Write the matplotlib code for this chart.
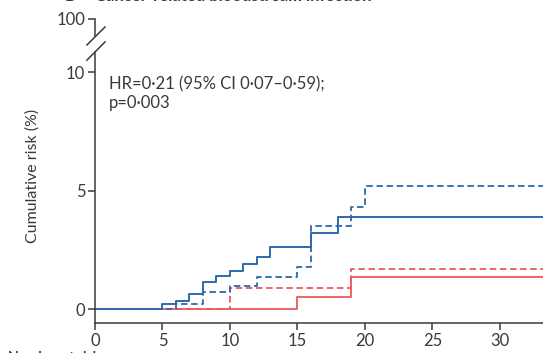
import matplotlib
matplotlib.use("Agg")
import matplotlib.pyplot as plt

plt.rcParams['font.family'] = ['Lato', 'DejaVu Sans']

# Kaplan-Meier style cumulative risk curves (months, %)
blue_solid_t = [0, 5, 6, 7, 8, 9, 10, 11, 12, 13, 16, 18, 34]
blue_solid_v = [0, 0.21, 0.35, 0.64, 1.14, 1.38, 1.62, 1.90, 2.19, 2.61, 3.19, 3.88, 3.88]
blue_dash_t = [0, 6, 8, 10, 12, 15, 16, 19, 20, 34]
blue_dash_v = [0, 0.20, 0.73, 0.97, 1.33, 1.79, 3.49, 4.32, 5.18, 5.18]
red_solid_t = [0, 15, 19, 34]
red_solid_v = [0, 0.52, 1.34, 1.34]
red_dash_t = [0, 10, 19, 34]
red_dash_v = [0, 0.87, 1.69, 1.69]

x_ticks = [0, 5, 10, 15, 20, 25, 30]
y_ticks = [0, 5, 10, 12.25]
y_tick_labels = ['0', '5', '10', '100']

BLUE = '#2c6aae'
RED = '#f0585a'
INK = '#3a3a3a'

fig = plt.figure(figsize=(5.43, 3.53), dpi=100)
ax = fig.add_axes([0.175, 0.085, 0.825, 0.8856])

dash = (0, (3.6, 2.0))
ax.plot(red_dash_t, red_dash_v, drawstyle='steps-post', color=RED, lw=1.3, ls=dash)
ax.plot(red_solid_t, red_solid_v, drawstyle='steps-post', color=RED, lw=1.3)
ax.plot(blue_dash_t, blue_dash_v, drawstyle='steps-post', color=BLUE, lw=1.3, ls=dash)
ax.plot(blue_solid_t, blue_solid_v, drawstyle='steps-post', color=BLUE, lw=1.4)

ax.set_xlim(0, 33.2)
ax.set_ylim(-0.59, 12.6)

for s in ['top', 'right', 'left']:
    ax.spines[s].set_visible(False)
ax.spines['bottom'].set_color(INK)
ax.spines['bottom'].set_linewidth(1.1)

ax.set_xticks(x_ticks)
ax.set_yticks(y_ticks)
ax.set_yticklabels(y_tick_labels)
ax.tick_params(axis='both', colors=INK, labelcolor=INK, labelsize=12,
               width=1.1, length=5, direction='out', pad=2)

# broken y axis drawn by hand
ax.plot([0, 0], [-0.59, 10.85], color=INK, lw=1.1, clip_on=False)
ax.plot([0, 0], [11.5, 12.25], color=INK, lw=1.1, clip_on=False)
ax.plot([-0.6, 0.74], [10.5, 11.27], color=INK, lw=1.1, clip_on=False)
ax.plot([-0.6, 0.74], [11.14, 11.9], color=INK, lw=1.1, clip_on=False)

ax.set_ylabel('Cumulative risk (%)', color=INK, fontsize=11.5)
ax.yaxis.set_label_coords(-0.123, 0.47)

ax.text(1.0, 9.8, 'HR=0·21 (95% CI 0·07–0·59);\np=0·003', color=INK,
        fontsize=12, va='top', ha='left', linespacing=1.2)

# cut-off panel title and risk-table header
fig.text(65 / 543, 0.997, 'B', color=INK, fontsize=12, fontweight='bold', va='baseline')
fig.text(95 / 543, 0.997, 'Cancer-related bloodstream infection', color=INK,
         fontsize=12, fontweight='bold', va='baseline')
fig.text(8 / 543, -0.024, 'Number at risk', color=INK, fontsize=10,
         fontweight='bold', va='baseline')

fig.savefig('out.png', dpi=100)
